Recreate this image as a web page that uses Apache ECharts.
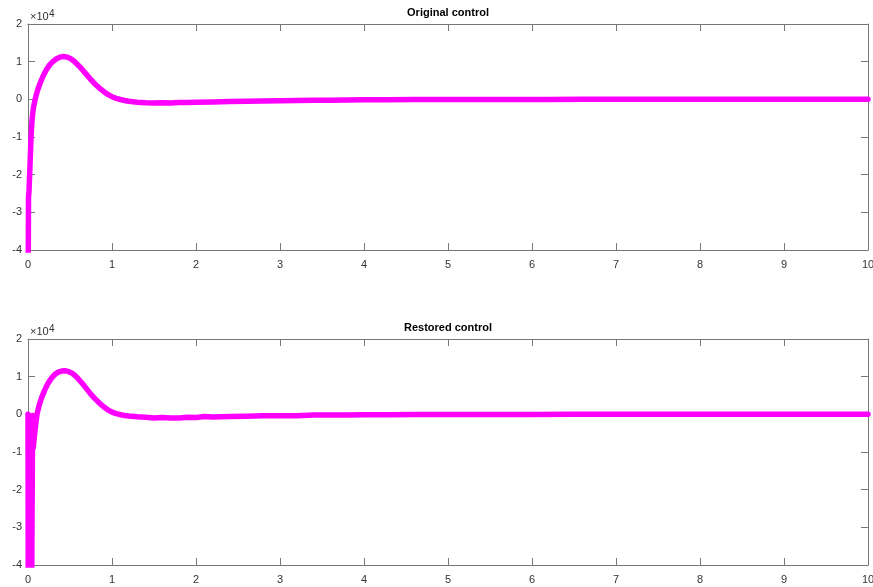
<!DOCTYPE html>
<html>
<head>
<meta charset="utf-8">
<script src="https://cdn.jsdelivr.net/npm/echarts@6/dist/echarts.min.js"></script>
<style>
  html, body { margin: 0; padding: 0; background: #fff; overflow: hidden; }
  #chart { width: 873px; height: 587px; }
</style>
</head>
<body>
<div id="chart"></div>
<script>
// Control signal u(t), raw units (axis shows them scaled by 10^4)
const titles = ['Original control', 'Restored control'];
const xTicks = [0, 1, 2, 3, 4, 5, 6, 7, 8, 9, 10];
const yTicks = [-4, -3, -2, -1, 0, 1, 2];
const yScale = 10000;

const timeOrig = [0, 0.006, 0.012, 0.03, 0.038, 0.05, 0.065, 0.085, 0.1, 0.12, 0.15, 0.18, 0.22, 0.26, 0.3, 0.34, 0.38, 0.42, 0.46, 0.5, 0.55, 0.6, 0.65, 0.7, 0.75, 0.8, 0.85, 0.9, 0.95, 1.0, 1.05, 1.1, 1.15, 1.2, 1.3, 1.4, 1.5, 1.6, 1.7, 1.8, 1.9, 2.0, 2.2, 2.4, 2.6, 2.8, 3.0, 3.2, 3.4, 3.6, 3.8, 4.0, 4.3, 4.6, 5.0, 5.4, 5.8, 6.2, 6.6, 7.0, 7.5, 8.0, 8.5, 9.0, 9.5, 10];
const ctrlOrig = [-60000, -26000, -24500, -24000, -9000, -5000, -2200, 0, 1300, 2800, 4600, 6200, 7900, 9200, 10100, 10800, 11200, 11350, 11250, 10900, 10100, 9000, 7800, 6500, 5200, 4000, 3000, 2100, 1300, 700, 250, -50, -300, -500, -750, -900, -950, -880, -950, -850, -820, -780, -680, -600, -520, -450, -380, -330, -260, -230, -170, -130, -100, -70, -40, -30, -20, -20, -10, 0, 0, 0, 0, 0, 0, 0];

const timeRest = [0, 0.004, 0.04, 0.055, 0.062, 0.075, 0.09, 0.107, 0.13, 0.16, 0.2, 0.24, 0.28, 0.32, 0.36, 0.4, 0.44, 0.48, 0.52, 0.56, 0.6, 0.65, 0.7, 0.75, 0.8, 0.85, 0.9, 0.95, 1.0, 1.05, 1.1, 1.15, 1.2, 1.3, 1.4, 1.5, 1.6, 1.7, 1.8, 1.9, 2.0, 2.1, 2.2, 2.4, 2.6, 2.8, 3.0, 3.2, 3.4, 3.6, 3.8, 4.0, 4.3, 4.6, 5.0, 5.5, 6.0, 6.5, 7.0, 7.5, 8.0, 8.5, 9.0, 9.5, 10];
const ctrlRest = [0, -60000, -60000, -300, -9000, -6000, -3000, 0, 2200, 4300, 6500, 8300, 9600, 10600, 11200, 11500, 11550, 11400, 11000, 10300, 9400, 8100, 6700, 5300, 4100, 3000, 2000, 1200, 600, 200, -100, -300, -450, -650, -800, -950, -850, -1000, -950, -800, -850, -600, -700, -600, -500, -400, -350, -350, -200, -200, -150, -100, -80, -50, -30, -20, -20, -10, -10, 0, 0, 0, 0, 0, 0];

const timeSets = [timeOrig, timeRest];
const ctrlSets = [ctrlOrig, ctrlRest];

const FONT = 'Liberation Sans, Arial, Helvetica, sans-serif';
const AXIS_COLOR = '#777777';
const LABEL_COLOR = '#333333';

const plotLeft = 28, plotRight = 5, plotH = 226;
const plotTops = [24, 339];
const plotCenterX = plotLeft + (873 - plotLeft - plotRight) / 2;

const grids = [], xAxes = [], yAxes = [], series = [], graphics = [];

plotTops.forEach((top, i) => {
  grids.push({ left: plotLeft, right: plotRight, top: top, height: plotH, outerBoundsMode: 'none' });
  const xRange = { min: xTicks[0], max: xTicks[xTicks.length - 1], interval: 1 };
  const yRange = { min: yTicks[0] * yScale, max: yTicks[yTicks.length - 1] * yScale, interval: yScale };
  const lineCfg = { show: true, onZero: false, lineStyle: { color: AXIS_COLOR, width: 1 } };
  const tickCfg = { show: true, inside: true, length: 7, lineStyle: { color: AXIS_COLOR } };
  // bottom x axis with labels
  xAxes.push(Object.assign({
    type: 'value', gridIndex: i, position: 'bottom', axisLine: lineCfg, axisTick: tickCfg,
    axisLabel: { show: true, color: LABEL_COLOR, fontSize: 11, fontFamily: FONT, margin: 9,
      hideOverlap: false },
    splitLine: { show: false }
  }, xRange));
  // top x axis, ticks only
  xAxes.push(Object.assign({
    type: 'value', gridIndex: i, position: 'top', axisLine: lineCfg, axisTick: tickCfg,
    axisLabel: { show: false }, splitLine: { show: false }
  }, xRange));
  // left y axis with labels
  yAxes.push(Object.assign({
    type: 'value', gridIndex: i, position: 'left', axisLine: lineCfg, axisTick: tickCfg,
    axisLabel: { show: true, color: LABEL_COLOR, fontSize: 11, fontFamily: FONT, margin: 6,
      formatter: v => String(Math.round(v / yScale)) },
    splitLine: { show: false }
  }, yRange));
  // right y axis, ticks only
  yAxes.push(Object.assign({
    type: 'value', gridIndex: i, position: 'right', axisLine: lineCfg, axisTick: tickCfg,
    axisLabel: { show: false }, splitLine: { show: false }
  }, yRange));

  series.push({
    type: 'line', xAxisIndex: i * 2, yAxisIndex: i * 2,
    data: timeSets[i].map((t, k) => [t, ctrlSets[i][k]]),
    showSymbol: false, symbol: 'none', clip: true, animation: false,
    lineStyle: { color: '#ff00ff', width: 5.5, join: 'round', cap: 'round' }
  });

  // panel title
  graphics.push({
    type: 'text', x: plotCenterX, y: top - 11,
    style: { text: titles[i], fontSize: 11, fontWeight: 'bold', fill: '#000', fontFamily: FONT,
      align: 'center', verticalAlign: 'middle' }
  });
  // exponent marker above the y axis
  graphics.push({
    type: 'text', x: plotLeft + 2, y: top - 7,
    style: { text: '\u00d710', fontSize: 11, fill: LABEL_COLOR, fontFamily: FONT,
      align: 'left', verticalAlign: 'middle' }
  });
  graphics.push({
    type: 'text', x: plotLeft + 21, y: top - 10,
    style: { text: '4', fontSize: 10, fill: LABEL_COLOR, fontFamily: FONT,
      align: 'left', verticalAlign: 'middle' }
  });
});

const chart = echarts.init(document.getElementById('chart'), null, { renderer: 'canvas' });
chart.setOption({
  backgroundColor: '#ffffff',
  animation: false,
  grid: grids,
  xAxis: xAxes,
  yAxis: yAxes,
  series: series,
  graphic: graphics
});
</script>
</body>
</html>
